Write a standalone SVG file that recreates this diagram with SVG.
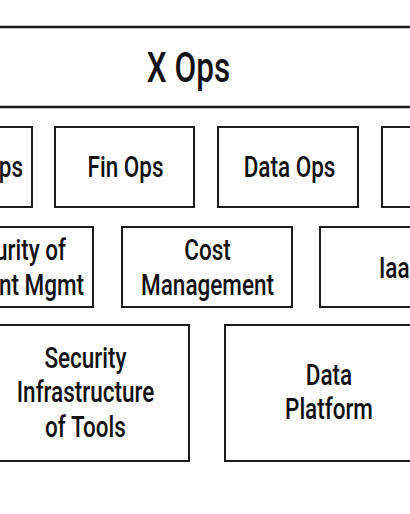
<svg xmlns="http://www.w3.org/2000/svg" width="410" height="514" viewBox="0 0 410 514">
<style>
.box{fill:#fff;stroke:#1c1c1c;stroke-width:2}
.t{font-family:Roboto,"Liberation Sans",sans-serif;font-weight:500;font-size:30px;fill:#111;text-anchor:middle}
.e{text-anchor:end}
.s{text-anchor:start}
.big{font-size:42px}
</style>
<rect width="410" height="514" fill="#fff"/>
<g id="xops">
<rect class="box" x="-5" y="27" width="420" height="80" style="stroke-width:2.5"/>
<text class="t big" transform="translate(188.5 82) scale(.75 1)">X Ops</text>
</g>
<g id="secops">
<rect class="box" x="-108" y="127" width="140" height="80"/>
<text class="t e" transform="translate(23 177) scale(.75 1)">Sec Ops</text>
</g>
<g id="finops">
<rect class="box" x="55" y="127" width="139" height="80"/>
<text class="t" transform="translate(125.5 177) scale(.75 1)">Fin Ops</text>
</g>
<g id="dataops">
<rect class="box" x="218" y="127" width="140" height="80"/>
<text class="t" transform="translate(289.5 177) scale(.75 1)">Data Ops</text>
</g>
<g id="ops4">
<rect class="box" x="382" y="127" width="140" height="80"/>
</g>
<g id="security-mgmt">
<rect class="box" x="-77" y="227" width="170" height="80"/>
<text class="t e" transform="translate(66 260) scale(.75 1)">Security of</text>
<text class="t e" transform="translate(84 294.5) scale(.75 1)">Endpoint Mgmt</text>
</g>
<g id="cost">
<rect class="box" x="122" y="227" width="170" height="80"/>
<text class="t" transform="translate(207.5 260) scale(.75 1)">Cost</text>
<text class="t" transform="translate(207.5 294.5) scale(.75 1)">Management</text>
</g>
<g id="iaas">
<rect class="box" x="320" y="227" width="170" height="80"/>
<text class="t s" transform="translate(379 278) scale(.75 1)">IaaS</text>
</g>
<g id="security-infra">
<rect class="box" x="-18" y="325" width="207" height="136"/>
<text class="t" transform="translate(85.5 367.5) scale(.75 1)">Security</text>
<text class="t" transform="translate(85.5 402) scale(.75 1)">Infrastructure</text>
<text class="t" transform="translate(85.5 436.5) scale(.75 1)">of Tools</text>
</g>
<g id="data-platform">
<rect class="box" x="225" y="325" width="207" height="136"/>
<text class="t" transform="translate(329 385) scale(.75 1)">Data</text>
<text class="t" transform="translate(329 419) scale(.75 1)">Platform</text>
</g>
<g id="connectors"></g>
</svg>
